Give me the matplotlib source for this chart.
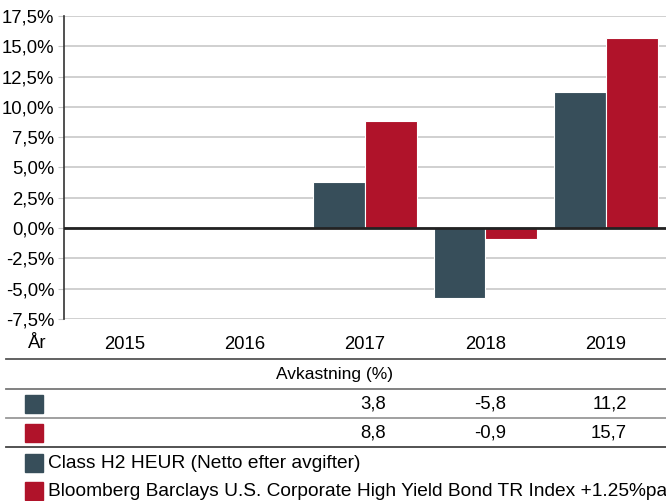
import matplotlib
matplotlib.use("Agg")
import matplotlib.pyplot as plt
import numpy as np

plt.rcParams['font.family'] = ['Liberation Sans', 'DejaVu Sans']

## chart data
years = ["2015", "2016", "2017", "2018", "2019"]
fund = [np.nan, np.nan, 3.8, -5.8, 11.2]
index = [np.nan, np.nan, 8.8, -0.9, 15.7]
fund_label = "Class H2 HEUR (Netto efter avgifter)"
index_label = "Bloomberg Barclays U.S. Corporate High Yield Bond TR Index +1.25%pa"
yticks = np.arange(-7.5, 17.6, 2.5)

dark = "#374e5a"
red = "#b0132a"
grid_c = "#c8c8c8"

W, H = 666, 501
fig = plt.figure(figsize=(W / 100, H / 100), dpi=100)
ax = fig.add_axes([64 / W, 1 - 319 / H, 1 - 64 / W, (319 - 16) / H])

x = np.arange(len(years))
bw = 0.43
ax.bar(x - bw / 2, fund, bw, color=dark, edgecolor="white", linewidth=0.8, zorder=3)
ax.bar(x + bw / 2, index, bw, color=red, edgecolor="white", linewidth=0.8, zorder=3)

ax.set_xlim(-0.5, len(years) - 0.5)
ax.set_ylim(-7.5, 17.5)
ax.set_yticks(yticks)
ax.set_yticklabels([f"{v:.1f}%".replace(".", ",") for v in yticks], fontsize=13.3)
ax.tick_params(axis="y", length=4, width=0.8, color=grid_c, pad=3)
ax.set_xticks(x)
ax.set_xticklabels(years, fontsize=13.3)
ax.tick_params(axis="x", length=0, pad=12)
ax.grid(axis="y", color=grid_c, linewidth=1.2, zorder=0)
ax.axhline(0, color="#222222", linewidth=2, zorder=4)
for s in ["top", "right", "bottom"]:
    ax.spines[s].set_visible(False)
ax.spines["left"].set_color("#333333")
ax.spines["left"].set_linewidth(1.2)

## table area below, drawn in pixel coordinates
ov = fig.add_axes([0, 0, 1, 1])
ov.set_xlim(0, W)
ov.set_ylim(H, 0)
ov.axis("off")
ov.patch.set_alpha(0)

ov.text(37, 344, "År", fontsize=13.3, ha="center", va="center")
for yy, c in [(359, "#555555"), (389, "#777777"), (418, "#999999"), (447, "#444444")]:
    ov.plot([6, W], [yy, yy], color=c, linewidth=1.3)
ov.text(335, 375, "Avkastning (%)", fontsize=12.5, ha="center", va="center")

cx = 64 + (x + 0.5) * (W - 64) / len(years)
for row_y, vals, col in [(404, fund, dark), (433, index, red)]:
    ov.add_patch(plt.Rectangle((25, row_y - 9), 18, 18, color=col))
    for xi, v in zip(cx, vals):
        if not np.isnan(v):
            ov.text(xi + 21, row_y, f"{v:.1f}".replace(".", ","), fontsize=13.3, ha="right", va="center")

for row_y, lab, col in [(463, fund_label, dark), (491, index_label, red)]:
    ov.add_patch(plt.Rectangle((25, row_y - 9), 18, 18, color=col))
    ov.text(48, row_y, lab, fontsize=13.8, ha="left", va="center")

fig.savefig("out.png", dpi=100)
